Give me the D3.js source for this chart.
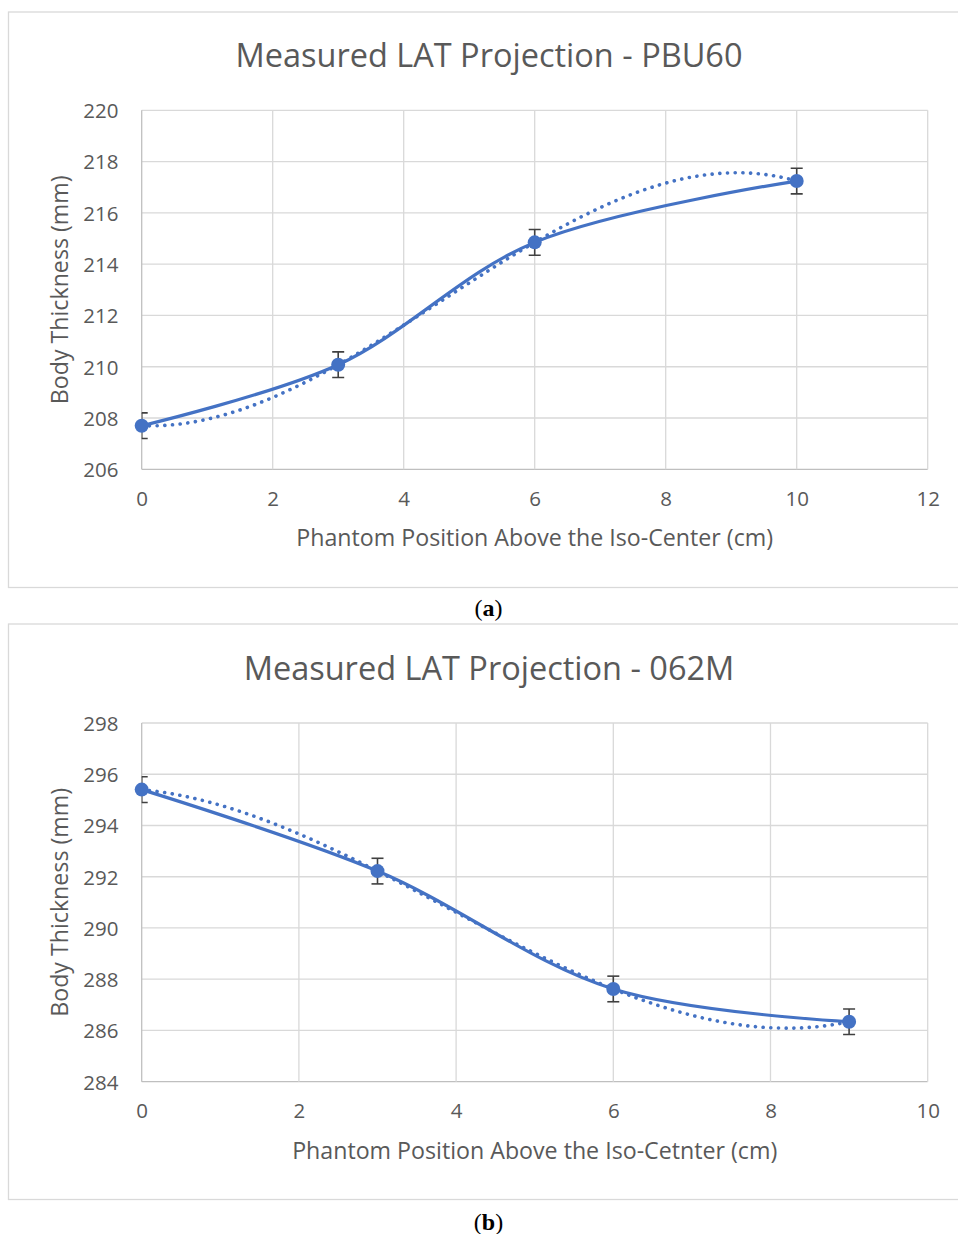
<!DOCTYPE html>
<html lang="en">
<head>
<meta charset="UTF-8">
<title>Measured LAT Projection</title>
<script src="https://d3js.org/d3.v7.min.js"></script>
<style>
  body { margin: 0; background: #fff; }
  text { font-family: "Open Sans", sans-serif; }
</style>
</head>
<body>
<script>
// chart (a) - PBU60
var xA = [0, 3, 6, 10];
var yA = [207.7, 210.08, 214.85, 217.24];
var errA = [0.5, 0.5, 0.5, 0.5];
var xTicksA = [0, 2, 4, 6, 8, 10, 12];
var yTicksA = [206, 208, 210, 212, 214, 216, 218, 220];

// chart (b) - 062M
var xB = [0, 3, 6, 9];
var yB = [295.4, 292.22, 287.62, 286.34];
var errB = [0.5, 0.5, 0.5, 0.5];
var xTicksB = [0, 2, 4, 6, 8, 10];
var yTicksB = [284, 286, 288, 290, 292, 294, 296, 298];

var width = 958, height = 1234;
var blue = "#4472c4", grey = "#595959";

var svg = d3.select("body").append("svg")
    .attr("width", width)
    .attr("height", height);

// least squares polynomial (order 3 trendline, like excel)
function polyfit(xs, ys, order) {
    var n = order + 1, A = [], b = [];
    for (var r = 0; r < n; r++) {
        A.push([]);
        for (var c = 0; c < n; c++) A[r].push(d3.sum(xs, function (x) { return Math.pow(x, r + c); }));
        b.push(d3.sum(xs, function (x, i) { return ys[i] * Math.pow(x, r); }));
    }
    for (var k = 0; k < n; k++) {
        for (var r2 = k + 1; r2 < n; r2++) {
            var f = A[r2][k] / A[k][k];
            for (var c2 = k; c2 < n; c2++) A[r2][c2] -= f * A[k][c2];
            b[r2] -= f * b[k];
        }
    }
    var coef = new Array(n);
    for (var i = n - 1; i >= 0; i--) {
        var s = b[i];
        for (var j = i + 1; j < n; j++) s -= A[i][j] * coef[j];
        coef[i] = s / A[i][i];
    }
    return function (x) { return d3.sum(coef, function (cf, p) { return cf * Math.pow(x, p); }); };
}

function drawChart(cfg) {
    var g = svg.append("g");

    // chart frame
    g.append("rect")
        .attr("x", 8.5).attr("y", cfg.frameTop + 0.5)
        .attr("width", 966).attr("height", cfg.frameH)
        .attr("fill", "none").attr("stroke", "#d9d9d9").attr("stroke-width", 1.3);

    var x = d3.scaleLinear().domain(d3.extent(cfg.xTicks)).range([141.7, 927.7]);
    var y = d3.scaleLinear().domain(d3.extent(cfg.yTicks)).range([cfg.plotBottom, cfg.plotTop]);

    // gridlines
    g.append("g").selectAll("line").data(cfg.yTicks).join("line")
        .attr("x1", x.range()[0]).attr("x2", x.range()[1])
        .attr("y1", function (d) { return y(d); }).attr("y2", function (d) { return y(d); })
        .attr("stroke", function (d, i) { return i == 0 ? "#bfbfbf" : "#d9d9d9"; })
        .attr("stroke-width", 1.3);
    g.append("g").selectAll("line").data(cfg.xTicks).join("line")
        .attr("x1", function (d) { return x(d); }).attr("x2", function (d) { return x(d); })
        .attr("y1", y.range()[0]).attr("y2", y.range()[1])
        .attr("stroke", function (d, i) { return i == 0 ? "#bfbfbf" : "#d9d9d9"; })
        .attr("stroke-width", 1.3);

    // tick labels through d3 axes, no domain or tick lines
    var ax = g.append("g").attr("transform", "translate(0," + (cfg.plotBottom + 22) + ")")
        .call(d3.axisBottom(x).tickValues(cfg.xTicks).tickSize(0).tickPadding(0));
    var ay = g.append("g").attr("transform", "translate(" + 118.5 + ",0)")
        .call(d3.axisLeft(y).tickValues(cfg.yTicks).tickSize(0).tickPadding(0));
    [ax, ay].forEach(function (a) {
        a.select(".domain").remove();
        a.selectAll("text").attr("fill", grey).style("font-size", "20.5px")
            .style("font-family", "'Open Sans', sans-serif");
    });
    ay.selectAll("text").attr("dy", "0.36em");
    ax.selectAll("text").attr("dy", "0.71em");

    // titles
    g.append("text").attr("x", 489).attr("y", cfg.titleY)
        .attr("text-anchor", "middle").attr("fill", grey).style("font-size", "32.5px")
        .text(cfg.title);
    g.append("text").attr("x", 534.7).attr("y", cfg.plotBottom + 77)
        .attr("text-anchor", "middle").attr("fill", grey).style("font-size", "23.2px")
        .text(cfg.xTitle);
    g.append("text")
        .attr("transform", "translate(68," + ((cfg.plotTop + cfg.plotBottom) / 2) + ") rotate(-90)")
        .attr("text-anchor", "middle").attr("fill", grey).style("font-size", "23.2px")
        .text("Body Thickness (mm)");

    var pts = cfg.xs.map(function (d, i) { return { x: d, y: cfg.ys[i], e: cfg.err[i] }; });

    // polynomial trendline (dotted)
    var fit = polyfit(cfg.xs, cfg.ys, 3);
    var xs0 = d3.min(cfg.xs), xs1 = d3.max(cfg.xs);
    var trend = d3.range(0, 121).map(function (k) {
        var xv = xs0 + (xs1 - xs0) * k / 120;
        return { x: xv, y: fit(xv) };
    });
    var line = d3.line().x(function (d) { return x(d.x); }).y(function (d) { return y(d.y); });
    g.append("path").datum(trend).attr("d", line)
        .attr("fill", "none").attr("stroke", blue).attr("stroke-width", 3.6)
        .attr("stroke-linecap", "round").attr("stroke-dasharray", "0.1 7.6");

    // smoothed data line
    g.append("path").datum(pts).attr("d", line.curve(d3.curveCatmullRom.alpha(0.5)))
        .attr("fill", "none").attr("stroke", blue).attr("stroke-width", 3.2)
        .attr("stroke-linejoin", "round");

    // error bars clipped to the plot area
    var clipId = "clip" + cfg.id;
    g.append("clipPath").attr("id", clipId).append("rect")
        .attr("x", x.range()[0]).attr("y", cfg.plotTop - 20)
        .attr("width", x.range()[1] - x.range()[0]).attr("height", cfg.plotBottom - cfg.plotTop + 40);
    var eb = g.append("g").attr("clip-path", "url(#" + clipId + ")")
        .attr("stroke", "#404040").attr("stroke-width", 1.6)
        .selectAll("g").data(pts).join("g");
    eb.append("line")
        .attr("x1", function (d) { return x(d.x); }).attr("x2", function (d) { return x(d.x); })
        .attr("y1", function (d) { return y(d.y - d.e); }).attr("y2", function (d) { return y(d.y + d.e); });
    [-1, 1].forEach(function (s) {
        eb.append("line")
            .attr("x1", function (d) { return x(d.x) - 6; }).attr("x2", function (d) { return x(d.x) + 6; })
            .attr("y1", function (d) { return y(d.y + s * d.e); }).attr("y2", function (d) { return y(d.y + s * d.e); });
    });

    // markers
    g.append("g").selectAll("circle").data(pts).join("circle")
        .attr("cx", function (d) { return x(d.x); })
        .attr("cy", function (d) { return y(d.y); })
        .attr("r", 7).attr("fill", blue);

    // caption
    var cap = g.append("text").attr("x", 488.5).attr("y", cfg.capY)
        .attr("text-anchor", "middle").attr("fill", "#000")
        .style("font-family", "'Liberation Serif', serif").style("font-size", "24px");
    cap.append("tspan").text("(");
    cap.append("tspan").attr("font-weight", "bold").text(cfg.cap);
    cap.append("tspan").text(")");
}

drawChart({
    id: "a", xs: xA, ys: yA, err: errA, xTicks: xTicksA, yTicks: yTicksA,
    frameTop: 11.5, frameH: 575.5, plotTop: 110.3, plotBottom: 469.3, titleY: 66.5,
    title: "Measured LAT Projection - PBU60",
    xTitle: "Phantom Position Above the Iso-Center (cm)", cap: "a", capY: 615.5
});
drawChart({
    id: "b", xs: xB, ys: yB, err: errB, xTicks: xTicksB, yTicks: yTicksB,
    frameTop: 623.5, frameH: 575.5, plotTop: 723, plotBottom: 1081.7, titleY: 679.5,
    title: "Measured LAT Projection - 062M",
    xTitle: "Phantom Position Above the Iso-Cetnter (cm)", cap: "b", capY: 1229.5
});
</script>
</body>
</html>
